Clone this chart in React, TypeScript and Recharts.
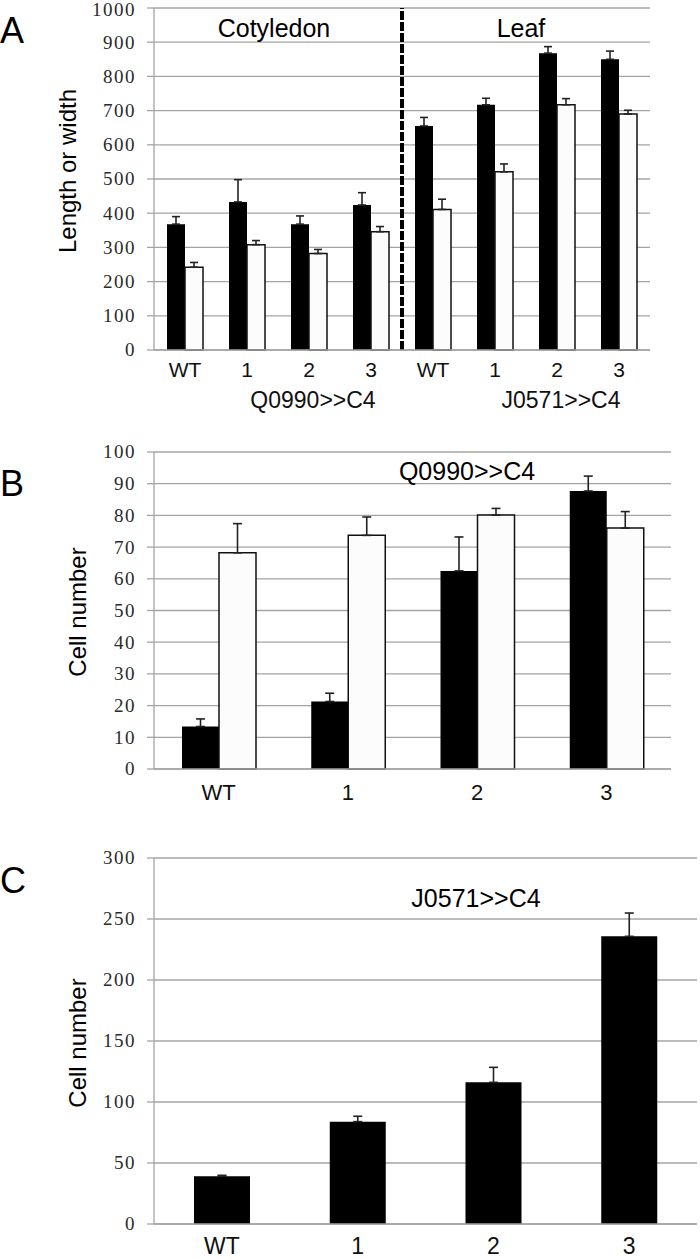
import { BarChart, Bar, XAxis, YAxis, CartesianGrid, ErrorBar, ReferenceLine } from "recharts";

// Panel A: cotyledon / leaf length and width
const categoriesA = ["WT", "1", "2", "3", "WT", "1", "2", "3"];
const tissuesA = ["Cotyledon", "Cotyledon", "Cotyledon", "Cotyledon", "Leaf", "Leaf", "Leaf", "Leaf"];
const lineNamesA = ["Q0990>>C4", "J0571>>C4"];
const lengthA = [368, 433, 368, 424, 655, 717, 868, 850];
const lengthErrA = [22, 65, 24, 36, 25, 19, 19, 24];
const widthA = [242, 308, 282, 346, 411, 521, 717, 690];
const widthErrA = [14, 12, 12, 15, 30, 23, 18, 11];
const ticksA = [0, 100, 200, 300, 400, 500, 600, 700, 800, 900, 1000];

// Panel B: Q0990>>C4 cell number
const categoriesB = ["WT", "1", "2", "3"];
const blackB = [13.4, 21.3, 62.5, 87.7];
const blackErrB = [2.4, 2.6, 10.7, 4.7];
const whiteB = [68.2, 73.7, 80.1, 76.0];
const whiteErrB = [9.2, 5.8, 2.1, 5.2];
const ticksB = [0, 10, 20, 30, 40, 50, 60, 70, 80, 90, 100];

// Panel C: J0571>>C4 cell number
const categoriesC = ["WT", "1", "2", "3"];
const countC = [39.1, 83.9, 116.1, 235.8];
const countErrC = [0.8, 4.4, 12.3, 19.1];
const ticksC = [0, 50, 100, 150, 200, 250, 300];

const dataA = categoriesA.map((c, i) => ({
  id: `${tissuesA[i]}-${c}`,
  group: tissuesA[i] === "Cotyledon" ? lineNamesA[0] : lineNamesA[1],
  length: lengthA[i],
  lengthErr: [0, lengthErrA[i]],
  width: widthA[i],
  widthErr: [0, widthErrA[i]],
}));

const dataB = categoriesB.map((c, i) => ({
  id: c,
  black: blackB[i],
  blackErr: [0, blackErrB[i]],
  white: whiteB[i],
  whiteErr: [0, whiteErrB[i]],
}));

const dataC = categoriesC.map((c, i) => ({
  id: c,
  count: countC[i],
  countErr: [0, countErrC[i]],
}));

const SANS = "'Liberation Sans', Arial, sans-serif";
const SERIF = "'Liberation Serif', 'Times New Roman', serif";
const GRID = "#a4a4a4";

function YTick(props: any) {
  const { x, y, payload } = props;
  // keep the topmost label of panel A inside the page
  const nudge = y < 12 ? 2 : 0;
  return (
    <text
      x={x}
      y={y + nudge}
      dy="0.34em"
      textAnchor="end"
      fontFamily={SERIF}
      fontSize={19}
      style={{ fontFamily: SERIF, fontSize: 19, letterSpacing: "1.5px" }}
      fill="#2a2a2a"
    >
      {payload.value}
    </text>
  );
}

function CatTick(props: any) {
  const { x, y, payload, fs } = props;
  const label = String(payload.value).split("-").pop();
  return (
    <text x={x} y={y} dy="0.71em" textAnchor="middle" style={{ fontFamily: SANS, fontSize: fs }} fill="#111">
      {label}
    </text>
  );
}

function TickA(props: any) {
  const { x, y, payload, index } = props;
  const row = dataA[index];
  const label = String(payload.value).split("-").pop();
  return (
    <g>
      <text x={x} y={y} dy="0.71em" textAnchor="middle" style={{ fontFamily: SANS, fontSize: 21 }} fill="#111">
        {label}
      </text>
      {label === "2" && row ? (
        <text x={x + 4} y={y + 30} dy="0.71em" textAnchor="middle" style={{ fontFamily: SANS, fontSize: 23 }} fill="#111">
          {row.group}
        </text>
      ) : null}
    </g>
  );
}

const whiteBar = { fill: "#fcfcfc", stroke: "#111", strokeWidth: 1.5 };
const errStyle = { stroke: "#222", strokeWidth: 1.6 };
const axisLine = { stroke: GRID, strokeWidth: 1.3 };

export default function App() {
  return (
    <div style={{ position: "absolute", left: 0, top: 0, width: 700, height: 1259, background: "#fff" }}>
      {/* A */}
      <div style={{ position: "absolute", left: 0, top: 0 }}>
        <BarChart width={700} height={420} data={dataA} margin={{ top: 8, right: 50, left: 0, bottom: 0 }} barGap={0}>
          <CartesianGrid vertical={false} stroke={GRID} strokeWidth={1.3} />
          <XAxis
            dataKey="id"
            height={70}
            interval={0}
            tickLine={false}
            tickSize={0}
            tickMargin={12}
            axisLine={axisLine}
            tick={(p: any) => <TickA {...p} />}
          />
          <YAxis
            type="number"
            domain={[0, 1000]}
            ticks={ticksA}
            interval={0}
            width={154}
            tickSize={7}
            tickMargin={11}
            axisLine={axisLine}
            tickLine={axisLine}
            tick={(p: any) => <YTick {...p} />}
          />
          <Bar dataKey="length" fill="#000" barSize={18} isAnimationActive={false}>
            <ErrorBar dataKey="lengthErr" width={4} direction="y" {...errStyle} />
          </Bar>
          <Bar dataKey="width" {...whiteBar} barSize={18} isAnimationActive={false}>
            <ErrorBar dataKey="widthErr" width={4} direction="y" {...errStyle} />
          </Bar>
          <ReferenceLine x="Cotyledon-3" position="end" stroke="#000" strokeWidth={4} strokeDasharray="9 2" />
        </BarChart>
      </div>

      {/* B */}
      <div style={{ position: "absolute", left: 0, top: 420 }}>
        <BarChart width={700} height={399} data={dataB} margin={{ top: 32, right: 29, left: 0, bottom: 0 }} barGap={0}>
          <CartesianGrid vertical={false} stroke={GRID} strokeWidth={1.3} />
          <XAxis
            dataKey="id"
            height={50}
            interval={0}
            tickLine={false}
            tickSize={0}
            tickMargin={15}
            axisLine={axisLine}
            tick={(p: any) => <CatTick {...p} fs={22} />}
          />
          <YAxis
            type="number"
            domain={[0, 100]}
            ticks={ticksB}
            interval={0}
            width={154}
            tickSize={7}
            tickMargin={11}
            axisLine={axisLine}
            tickLine={axisLine}
            tick={(p: any) => <YTick {...p} />}
          />
          <Bar dataKey="black" fill="#000" barSize={37} isAnimationActive={false}>
            <ErrorBar dataKey="blackErr" width={4.5} direction="y" {...errStyle} />
          </Bar>
          <Bar dataKey="white" {...whiteBar} barSize={37} isAnimationActive={false}>
            <ErrorBar dataKey="whiteErr" width={4.5} direction="y" {...errStyle} />
          </Bar>
        </BarChart>
      </div>

      {/* C */}
      <div style={{ position: "absolute", left: 0, top: 830 }}>
        <BarChart width={700} height={429} data={dataC} margin={{ top: 28, right: 3, left: 0, bottom: 0 }} barGap={0}>
          <CartesianGrid vertical={false} stroke={GRID} strokeWidth={1.3} />
          <XAxis
            dataKey="id"
            height={35}
            interval={0}
            tickLine={false}
            tickSize={0}
            tickMargin={14}
            axisLine={axisLine}
            tick={(p: any) => <CatTick {...p} fs={23} />}
          />
          <YAxis
            type="number"
            domain={[0, 300]}
            ticks={ticksC}
            interval={0}
            width={154}
            tickSize={7}
            tickMargin={11}
            axisLine={axisLine}
            tickLine={axisLine}
            tick={(p: any) => <YTick {...p} />}
          />
          <Bar dataKey="count" fill="#000" barSize={56} isAnimationActive={false}>
            <ErrorBar dataKey="countErr" width={4.5} direction="y" {...errStyle} />
          </Bar>
        </BarChart>
      </div>

      {/* free text: panel letters, axis titles, annotations */}
      <svg width={700} height={1259} style={{ position: "absolute", left: 0, top: 0, pointerEvents: "none" }}>
        <g style={{ fontFamily: SANS }} fill="#000">
          <text x={0} y={43} fontSize={36}>A</text>
          <text x={0} y={496} fontSize={36}>B</text>
          <text x={0} y={893} fontSize={36}>C</text>

          <text x={76} y={171} fontSize={24} textAnchor="middle" transform="rotate(-90 76 171)">Length or width</text>
          <text x={86} y={612} fontSize={24} textAnchor="middle" transform="rotate(-90 86 612)">Cell number</text>
          <text x={86} y={1043} fontSize={24} textAnchor="middle" transform="rotate(-90 86 1043)">Cell number</text>

          <text x={274} y={37} fontSize={25} textAnchor="middle">Cotyledon</text>
          <text x={521} y={37} fontSize={25} textAnchor="middle">Leaf</text>
          <text x={467} y={480} fontSize={25} textAnchor="middle">Q0990&gt;&gt;C4</text>
          <text x={476} y={907} fontSize={25} textAnchor="middle">J0571&gt;&gt;C4</text>
        </g>
      </svg>
    </div>
  );
}
